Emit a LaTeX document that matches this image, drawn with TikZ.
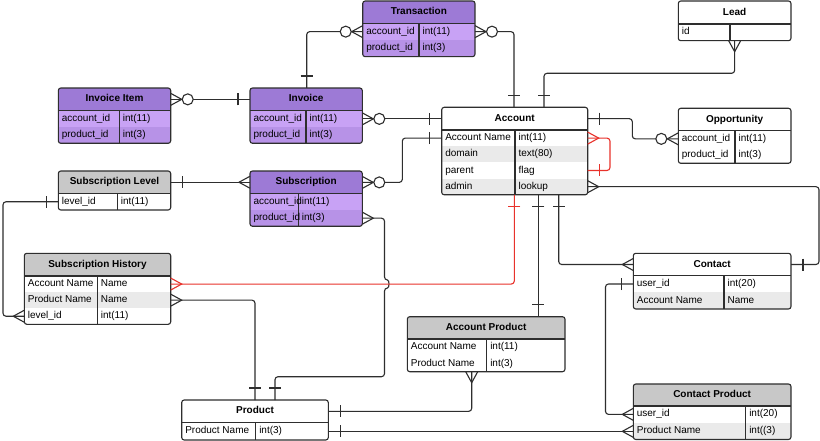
\documentclass[tikz,border=0pt]{standalone}
\usepackage{fontspec}
\setmainfont{Liberation Sans}
\definecolor{lc}{HTML}{2E2E2E}
\definecolor{redc}{HTML}{E8322B}
\definecolor{hgrey}{HTML}{C8C8C8}
\definecolor{rowg}{HTML}{EAEAEA}
\definecolor{phead}{HTML}{9D7AD6}
\definecolor{prow}{HTML}{C8A2F5}
\definecolor{prowb}{HTML}{B792E7}
\tikzset{
  conn/.style={draw=lc, line width=1.1pt, rounded corners=3},
  redconn/.style={draw=redc, line width=1.1pt, rounded corners=3},
  tblline/.style={draw=lc, line width=1.1pt},
  cell/.style={anchor=west, inner sep=0, text height=7.4pt, text depth=2.2pt, text=black, font=\fontsize{10}{12}\selectfont},
  ttl/.style={inner sep=0, text height=7.4pt, text depth=2.2pt, text=black, font=\fontsize{10}{12}\selectfont\bfseries},
  pics/crow/.style={code={\draw (0,-6) -- (11,0) -- (0,6);}},
  pics/bar/.style={code={\draw (12,-6) -- (12,6);}},
  pics/ring/.style={code={\draw[fill=white] (17,0) circle[radius=5.5];}},
}
% table: name, x1, y1, x2, y2, header bottom, divider x, title, header fill ; then {n rows}{rows}
\newcommand\erbox[9]{%
  \def\ertname{#1}\def\ertxa{#2}\def\ertya{#3}\def\ertxb{#4}\def\ertyb{#5}%
  \def\erthy{#6}\def\ertdx{#7}\def\erttitle{#8}\def\ertfill{#9}%
  \erboxrows}
\newcommand\erboxrows[2]{%
  \pgfmathsetmacro\ertrh{(\ertyb-\erthy)/#1}%
  \pgfmathsetmacro\ertw{\ertxb-\ertxa}%
  \pgfmathsetmacro\erth{\ertyb-\ertya}%
  \pgfmathsetmacro\ertcx{(\ertxa+\ertxb)/2}%
  \pgfmathsetmacro\ertcy{(\ertya+\erthy)/2}%
  \node[inner sep=0, outer sep=0, minimum width=\ertw pt, minimum height=\erth pt, anchor=north west] (\ertname) at (\ertxa,\ertya) {};
  \begin{scope}
    \clip[rounded corners=2.5] (\ertxa,\ertya) rectangle (\ertxb,\ertyb);
    \fill[fill=\ertfill] (\ertxa,\ertya) rectangle (\ertxb,\erthy);
    \foreach \ercl/\ercr/\ercf [count=\erci] in {#2} {
      \pgfmathsetmacro\erya{\erthy+(\erci-1)*\ertrh}
      \pgfmathsetmacro\eryb{\erthy+\erci*\ertrh}
      \fill[fill=\ercf] (\ertxa,\erya) rectangle (\ertxb,\eryb);
    }
  \end{scope}
  \draw[tblline] (\ertxa,\erthy) -- (\ertxb,\erthy);
  \draw[tblline] (\ertdx,\erthy) -- (\ertdx,\ertyb);
  \draw[tblline, rounded corners=2.5] (\ertxa,\ertya) rectangle (\ertxb,\ertyb);
  \node[ttl] at (\ertcx,\ertcy) {\erttitle};
  \coordinate (\ertname-hw) at (\ertxa,\ertcy);
  \coordinate (\ertname-he) at (\ertxb,\ertcy);
  \foreach \ercl/\ercr/\ercf [count=\erci] in {#2} {
    \pgfmathsetmacro\eryc{\erthy+(\erci-0.5)*\ertrh}
    \node[cell] at (\ertxa+3,\eryc) {\ercl};
    \node[cell] at (\ertdx+3,\eryc) {\ercr};
    \coordinate (\ertname-w\erci) at (\ertxa,\eryc);
    \coordinate (\ertname-e\erci) at (\ertxb,\eryc);
  }
}
\begin{document}
\begin{tikzpicture}[x=1pt,y=-1pt,line width=1.1pt,color=lc]
\fill[white] (0,0) rectangle (820,441);
\useasboundingbox (0,0) rectangle (820,441);

% ---------- tables ----------
\erbox{tra}{362.7}{1}{475}{56.7}{23.3}{419}{Transaction}{phead}{2}{account\_id/int(11)/prow, product\_id/int(3)/prowb}
\erbox{ii}{58.3}{88}{170.7}{143.3}{110.7}{119.3}{Invoice Item}{phead}{2}{account\_id/int(11)/prow, product\_id/int(3)/prowb}
\erbox{inv}{250}{88}{362.3}{143.3}{110.7}{306}{Invoice}{phead}{2}{account\_id/int(11)/prow, product\_id/int(3)/prowb}
\erbox{sub}{250}{171}{362.3}{226.3}{193.8}{298.3}{Subscription}{phead}{2}{account\_id/int(11)/prow, product\_id/int(3)/prowb}
\erbox{sl}{58.3}{171}{170.7}{210}{193.5}{117.3}{Subscription Level}{hgrey}{1}{level\_id/int(11)/white}
\erbox{acc}{441.7}{107.3}{587.7}{194.8}{130}{515}{Account}{white}{4}{Account Name/int(11)/white, domain/text(80)/rowg, parent/flag/white, admin/lookup/rowg}
\erbox{lead}{678.3}{1}{791}{40.7}{24}{730}{Lead}{white}{1}{id//white}
\erbox{opp}{678.3}{108.3}{791}{163.3}{130.7}{735}{Opportunity}{white}{2}{account\_id/int(11)/white, product\_id/int(3)/white}
\erbox{sh}{24.3}{253.3}{170.7}{324.3}{276}{97.3}{Subscription History}{hgrey}{3}{Account Name/Name/white, Product Name/Name/rowg, level\_id/int(11)/white}
\erbox{prod}{181.7}{400}{328.3}{440}{422.7}{255.7}{Product}{white}{1}{Product Name/int(3)/white}
\erbox{ap}{407.3}{316.7}{565}{371.7}{339}{486.7}{Account Product}{hgrey}{2}{Account Name/int(11)/white, Product Name/int(3)/white}
\erbox{con}{633.3}{253.3}{791}{309}{275.7}{724}{Contact}{white}{2}{user\_id/int(20)/white, Account Name/Name/rowg}
\erbox{cp}{633.3}{384}{791}{439.5}{406}{745.7}{Contact Product}{hgrey}{2}{user\_id/int(20)/white, Product Name/int((3)/rowg}

% ---------- helper coordinates ----------
\coordinate (invT) at (inv.north -| 306.7,0);
\coordinate (accT1) at (acc.north -| 514,0);
\coordinate (accT2) at (acc.north -| 544,0);
\coordinate (accL1) at (inv-e1 -| acc.west);
\coordinate (subL) at (sl-he -| sub.west);
\coordinate (prodT1) at (prod.north -| 275,0);
\coordinate (accB1) at (acc.south -| 514.3,0);
\coordinate (accB2) at (acc.south -| 538.3,0);
\coordinate (apT) at (ap.north -| 538.3,0);
\coordinate (accB3) at (acc.south -| 558.7,0);
\coordinate (apB) at (ap.south -| 471.7,0);
\coordinate (cpL) at (prod-e1 -| cp.west);

% ---------- connectors ----------
% Transaction - Invoice
\draw[conn] (tra-w1) -| (invT);
\pic[lc,rotate=180] at (tra-w1) {crow}; \pic[lc,rotate=180] at (tra-w1) {ring};
\pic[lc,rotate=90] at (invT) {bar};
% Transaction - Account
\draw[conn] (tra-e1) -| (accT1);
\pic[lc] at (tra-e1) {crow}; \pic[lc] at (tra-e1) {ring};
\pic[lc,rotate=90] at (accT1) {bar};
% Lead - Account
\draw[conn] (lead.south) |- (544,73.3) -- (accT2);
\pic[lc,rotate=-90] at (lead.south) {crow};
\pic[lc,rotate=90] at (accT2) {bar};
% Invoice Item - Invoice
\draw[conn] (ii-he) -- (inv-hw);
\pic[lc] at (ii-he) {crow}; \pic[lc] at (ii-he) {ring};
\pic[lc,rotate=180] at (inv-hw) {bar};
% Invoice - Account
\draw[conn] (inv-e1) -- (accL1);
\pic[lc] at (inv-e1) {crow}; \pic[lc] at (inv-e1) {ring};
\pic[lc,rotate=180] at (accL1) {bar};
% Subscription - Account
\draw[conn] (sub-he) -| (402.3,0 |- acc-w1) -- (acc-w1);
\pic[lc] at (sub-he) {crow}; \pic[lc] at (sub-he) {ring};
\pic[lc,rotate=180] at (acc-w1) {bar};
% Subscription Level - Subscription
\draw[conn] (sl-he) -- (subL);
\pic[lc] at (sl-he) {bar};
\pic[lc,rotate=180] at (subL) {crow};
% Subscription Level - Subscription History
\draw[conn] (sl-w1) -| (3,0 |- sh-w3) -- (sh-w3);
\pic[lc,rotate=180] at (sl-w1) {bar};
\pic[lc,rotate=180] at (sh-w3) {crow};
% Subscription - Product (with hop over red line)
\draw[conn] (sub-e2) -| (384.5,280) .. controls (389.5,280) and (389.5,288) .. (384.5,288) -- (384.5,376.7) -| (prodT1);
\pic[lc] at (sub-e2) {crow};
\pic[lc,rotate=90] at (prodT1) {bar};
% Subscription History - Product
\draw[conn] (sh-e2) -| (prod.north);
\pic[lc] at (sh-e2) {crow};
\pic[lc,rotate=90] at (prod.north) {bar};
% Account - Subscription History (red)
\draw[redconn] (accB1) |- (sh-e1);
\pic[redc,rotate=-90] at (accB1) {bar};
\pic[redc] at (sh-e1) {crow};
% Account self relation (red)
\draw[redconn] (acc-e1) -| (610,0 |- acc-e3) -- (acc-e3);
\pic[redc] at (acc-e1) {crow};
\pic[redc] at (acc-e3) {bar};
% Account - Account Product
\draw[conn] (accB2) -- (apT);
\pic[lc,rotate=-90] at (accB2) {bar};
\pic[lc,rotate=90] at (apT) {bar};
% Account - Contact
\draw[conn] (accB3) |- (con-hw);
\pic[lc,rotate=-90] at (accB3) {bar};
\pic[lc,rotate=180] at (con-hw) {crow};
% Account admin - Contact
\draw[conn] (acc-e4) -| (819,0 |- con-he) -- (con-he);
\pic[lc] at (acc-e4) {crow};
\pic[lc] at (con-he) {bar};
% Account - Opportunity
\draw[conn] (acc-he) -| (632.3,0 |- opp-w1) -- (opp-w1);
\pic[lc] at (acc-he) {bar};
\pic[lc,rotate=180] at (opp-w1) {crow}; \pic[lc,rotate=180] at (opp-w1) {ring};
% Account Product - Product
\draw[conn] (apB) |- (prod-he);
\pic[lc,rotate=-90] at (apB) {crow};
\pic[lc] at (prod-he) {bar};
% Contact - Contact Product
\draw[conn] (con-w1) -| (605.5,0 |- cp-w1) -- (cp-w1);
\pic[lc,rotate=180] at (con-w1) {bar};
\pic[lc,rotate=180] at (cp-w1) {crow};
% Product - Contact Product
\draw[conn] (prod-e1) -- (cpL);
\pic[lc] at (prod-e1) {bar};
\pic[lc,rotate=180] at (cpL) {crow};
\end{tikzpicture}
\end{document}
